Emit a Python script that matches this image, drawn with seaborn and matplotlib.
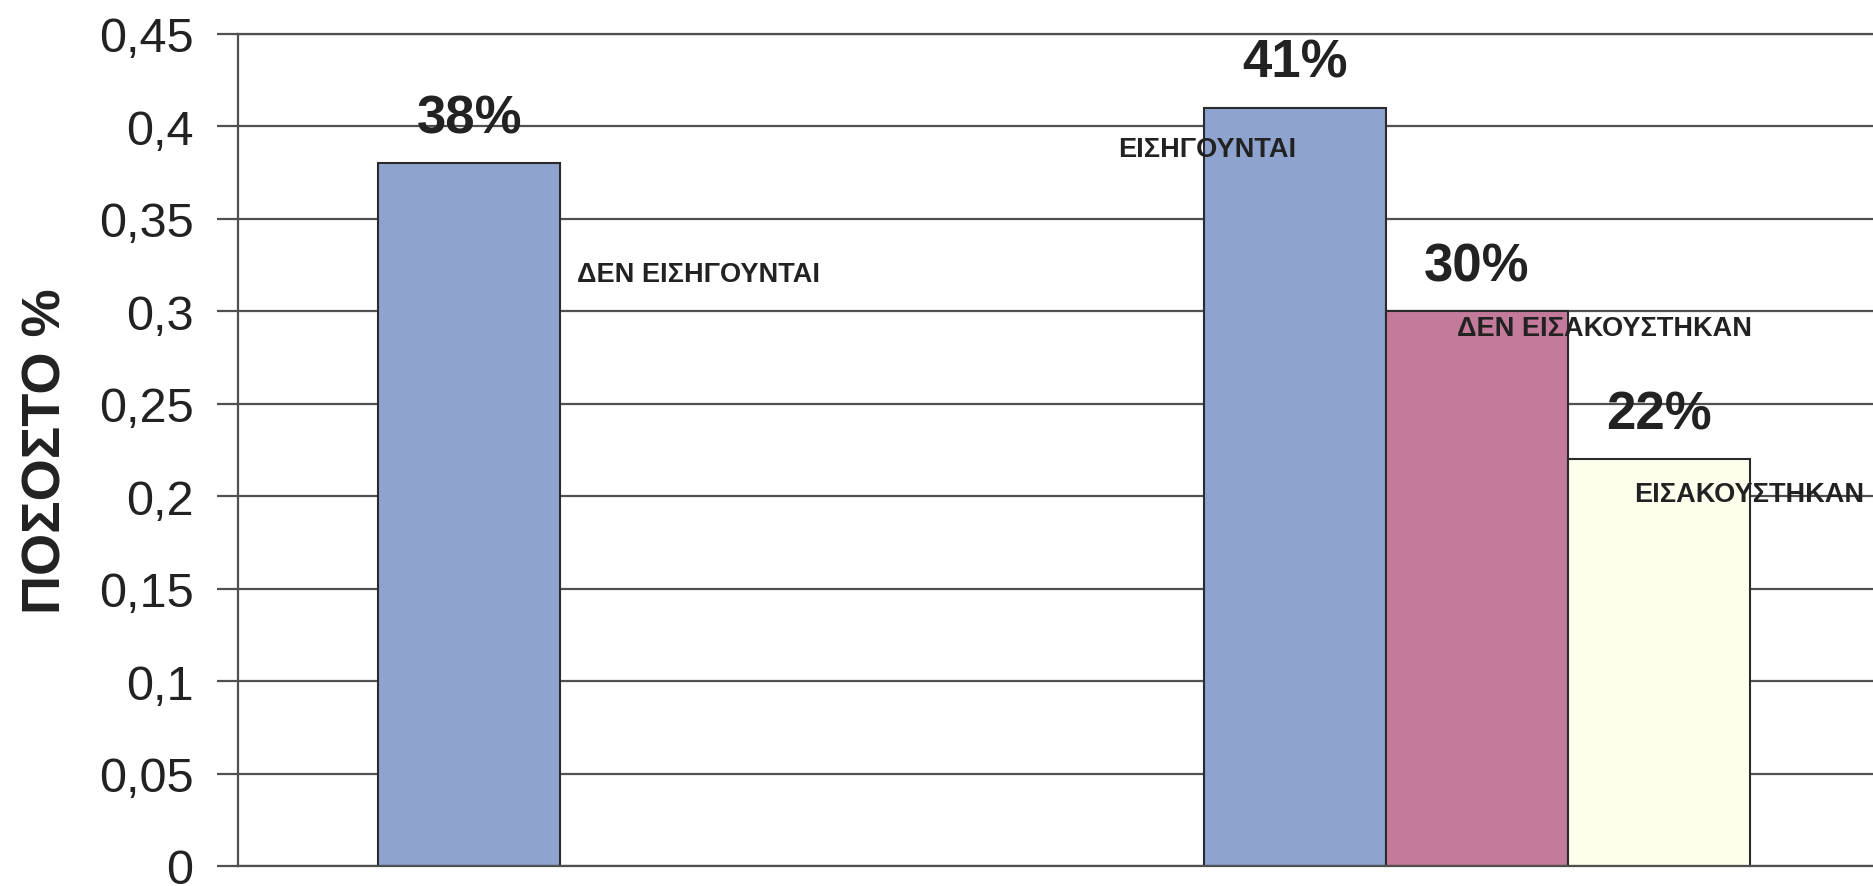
import pandas as pd
import matplotlib
matplotlib.use('Agg')
import matplotlib.pyplot as plt
from matplotlib.ticker import FuncFormatter, MultipleLocator
import seaborn as sns

# Chart data
groups = ['Α', 'Β', 'Β', 'Β']
series = ['Σειρά 1', 'Σειρά 1', 'Σειρά 2', 'Σειρά 3']
values = [0.38, 0.41, 0.30, 0.22]
bar_names = ['ΔΕΝ ΕΙΣΗΓΟΥΝΤΑΙ', 'ΕΙΣΗΓΟΥΝΤΑΙ', 'ΔΕΝ ΕΙΣΑΚΟΥΣΤΗΚΑΝ', 'ΕΙΣΑΚΟΥΣΤΗΚΑΝ']
series_order = ['Σειρά 1', 'Σειρά 2', 'Σειρά 3']
colors = ['#8FA3CF', '#C47A9A', '#FFFFEE']
y_label = 'ΠΟΣΟΣΤΟ %'

df = pd.DataFrame({'group': groups, 'series': series, 'value': values})

sns.set_style('white')
plt.rcParams['font.family'] = ['Liberation Sans', 'DejaVu Sans']

fig = plt.figure(figsize=(18.74, 8.87), dpi=100)
ax = fig.add_axes([238 / 1874, 20 / 887, 1652 / 1874, 832 / 887])

sns.barplot(data=df, x='group', y='value', hue='series', hue_order=series_order,
            palette=colors, width=0.66, gap=0, edgecolor='#2b2b2b', linewidth=1.5,
            saturation=1, legend=False, ax=ax)

ax.set_ylim(0, 0.45)
ax.set_xlim(-0.5, 1.5)
ax.yaxis.set_major_locator(MultipleLocator(0.05))
ax.yaxis.set_major_formatter(FuncFormatter(lambda v, p: f"{round(v, 2):g}".replace('.', ',')))
ax.yaxis.grid(True, color='#505050', linewidth=1.6)
ax.set_axisbelow(True)
ax.tick_params(axis='y', length=15, width=1.6, color='#505050', direction='out',
               pad=17, labelsize=35, labelcolor='#222222', left=True)
for lbl in ax.get_yticklabels():
    lbl.set_verticalalignment('center_baseline')
ax.tick_params(axis='x', bottom=False, labelbottom=False)
ax.set_xlabel('')
ax.set_ylabel(y_label, fontsize=39, fontweight='bold', color='#222222')
ax.yaxis.set_label_coords(-0.101, 0.5)

for side in ['left', 'bottom', 'top', 'right']:
    ax.spines[side].set_color('#505050')
    ax.spines[side].set_linewidth(1.6)

# value labels and series names next to the bars
name_offsets = [(108, -111), (-177, -41), (-20, -17), (-25, -35)]
bars = sorted([p for p in ax.patches if p.get_height() > 0], key=lambda p: p.get_x())
for bar, val, name, (dx, dy) in zip(bars, values, bar_names, name_offsets):
    cx = bar.get_x() + bar.get_width() / 2
    top = bar.get_height()
    ax.annotate(f"{val * 100:.0f}%", (cx, top), xytext=(0, 31), textcoords='offset pixels',
                ha='center', va='baseline', fontsize=38, fontweight='bold', color='#222222')
    ax.annotate(name, (cx, top), xytext=(dx, dy), textcoords='offset pixels',
                ha='left', va='center', fontsize=19.5, fontweight='bold', color='#222222',
                zorder=5)

plt.savefig('out.png', dpi=100)
